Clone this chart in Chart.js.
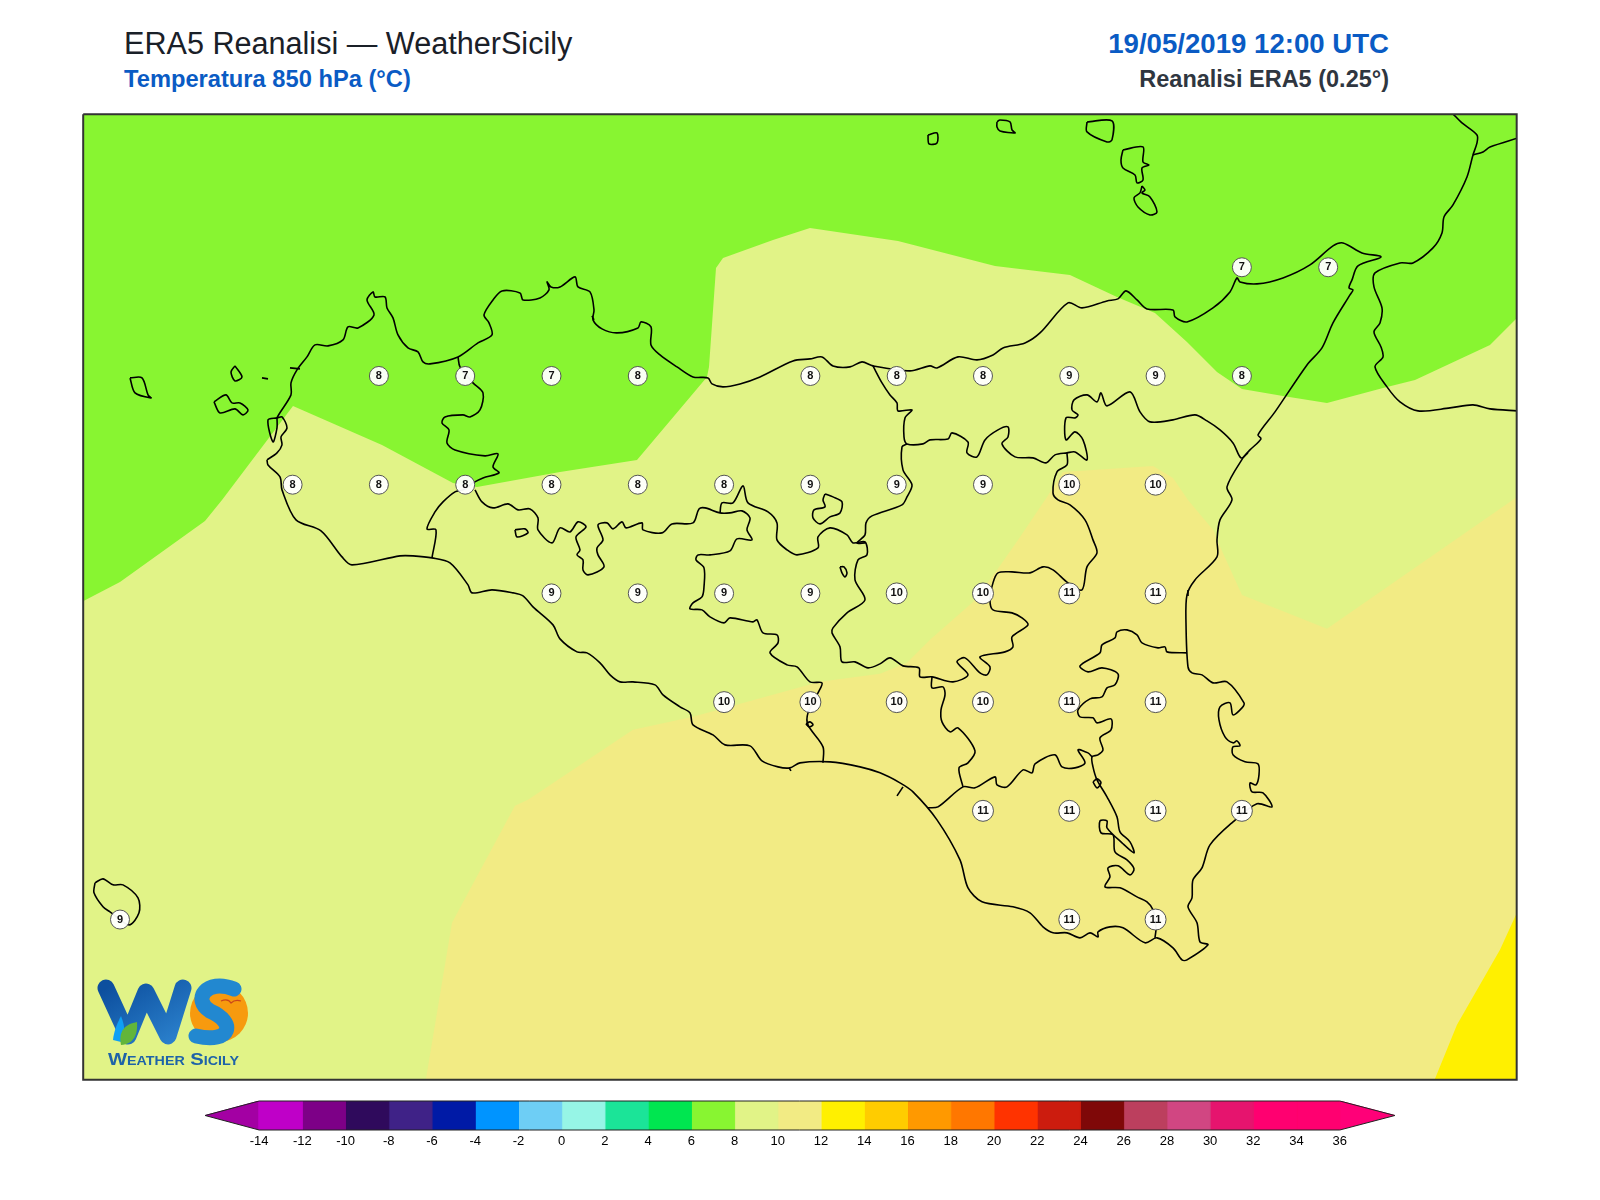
<!DOCTYPE html>
<html>
<head>
<meta charset="utf-8">
<title>ERA5 Reanalisi - WeatherSicily</title>
<script src="https://cdn.jsdelivr.net/npm/chart.js@4/dist/chart.umd.min.js"></script>
<style>
body { margin: 0; background: #fff; width: 1600px; height: 1200px; overflow: hidden; position: relative; font-family: "Liberation Sans", Arial, sans-serif; }
canvas { position: absolute; }
.head { position: absolute; white-space: nowrap; }
#logo { position: absolute; left: 0; top: 0; }
</style>
</head>
<body>
<div class="head" style="left:124px;top:26px;font-size:30.6px;color:#1a2028">ERA5 Reanalisi — WeatherSicily</div>
<div class="head" style="left:124px;top:66px;font-size:23.7px;font-weight:bold;color:#0a5bc4">Temperatura 850 hPa (°C)</div>
<div class="head" style="right:211px;top:28px;font-size:27.6px;font-weight:bold;color:#0a5bc4">19/05/2019 12:00 UTC</div>
<div class="head" style="right:211px;top:66px;font-size:23.5px;font-weight:bold;color:#2f3640">Reanalisi ERA5 (0.25°)</div>

<canvas id="mapChart" width="1600" height="1200" style="left:0;top:0"></canvas>
<canvas id="barChart" width="1300" height="60" style="left:150px;top:1095px"></canvas>

<svg id="logo" width="1600" height="1200">
  <defs>
    <linearGradient id="wBlue" x1="0" y1="0" x2="1" y2="1">
      <stop offset="0" stop-color="#0d4f9e"/>
      <stop offset="1" stop-color="#2a80cc"/>
    </linearGradient>
  </defs>
  <circle cx="219" cy="1013" r="29" fill="#f79a0e"/>
  <polyline points="106,988 128,1036 146,992 168,1036 183,988" fill="none" stroke="url(#wBlue)" stroke-width="17" stroke-linejoin="round" stroke-linecap="round"/>
  <path d="M234,989 C206,978 192,1000 210,1011 C236,1022 232,1044 196,1036" fill="none" stroke="#2288d0" stroke-width="15" stroke-linecap="round"/>
  <path d="M221,1001 Q228,998 231,1003 Q235,999 241,1001" fill="none" stroke="#c9461a" stroke-width="1.2"/>
  <path d="M113,1040 C114,1030 118,1022 121,1016 C125,1026 126,1036 121,1042 Z" fill="#0ea0f5"/>
  <path d="M121,1045 C118,1030 126,1024 137,1022 C138,1034 134,1044 121,1045 Z" fill="#62b53a"/>
  <text x="108" y="1065" font-family="Liberation Sans" font-weight="bold" font-size="17" fill="#1e63a8" font-variant="small-caps" textLength="131" lengthAdjust="spacingAndGlyphs">Weather Sicily</text>
</svg>

<script>
// Map limits in degrees
const lonMin = 11.8934, lonMax = 16.0461, latMin = 36.381, latMax = 38.602;

// Grid point values (degrees, °C)
const stationLon = [15.25, 15.5,
    12.75, 13, 13.25, 13.5, 14, 14.25, 14.5, 14.75, 15, 15.25,
    12.5, 12.75, 13, 13.25, 13.5, 13.75, 14, 14.25, 14.5, 14.75, 15,
    13.25, 13.5, 13.75, 14, 14.25, 14.5, 14.75, 15,
    13.75, 14, 14.25, 14.5, 14.75, 15,
    14.5, 14.75, 15, 15.25,
    12, 14.75, 15];
const stationLat = [38.25, 38.25,
    38, 38, 38, 38, 38, 38, 38, 38, 38, 38,
    37.75, 37.75, 37.75, 37.75, 37.75, 37.75, 37.75, 37.75, 37.75, 37.75, 37.75,
    37.5, 37.5, 37.5, 37.5, 37.5, 37.5, 37.5, 37.5,
    37.25, 37.25, 37.25, 37.25, 37.25, 37.25,
    37, 37, 37, 37,
    36.75, 36.75, 36.75];
const stationTemp = [7, 7,
    8, 7, 7, 8, 8, 8, 8, 9, 9, 8,
    8, 8, 8, 8, 8, 8, 9, 9, 9, 10, 10,
    9, 9, 9, 9, 10, 10, 11, 11,
    10, 10, 10, 10, 11, 11,
    11, 11, 11, 11,
    9, 11, 11];

// Colour bar
const barEdges = [-14, -12, -10, -8, -6, -4, -2, 0, 2, 4, 6, 8, 10, 12, 14, 16, 18, 20, 22, 24, 26, 28, 30, 32, 34, 36];
const barColors = ["#bf00c8", "#7d0087", "#2f0a5c", "#3f2287", "#001aa6", "#0094ff", "#6ecef5", "#96f5e6", "#1be498", "#00e650", "#88f531", "#e1f387", "#f2eb84", "#fff000", "#ffcc00", "#ff9900", "#ff7700", "#ff3300", "#cc1c0e", "#7f0808", "#bc3f5e", "#d14682", "#e6146e", "#ff0070", "#ff0070"];
const lowColor = "#a300a3", highColor = "#ff0078";
const lowTip = -16.5, highTip = 38.55;

// Shapes below are digitised on a tracing sheet, converted to degrees by sheetPoint()
const band6to8 = [[83.2, 114.2], [1516.7, 114.2], [1516.7, 1080], [83.2, 1080]];
const band8to10 = [[80, 603], [120, 582], [205, 521], [222, 500], [293, 406], [382, 445], [453, 483], [477, 487], [560, 472], [637, 460], [707, 377], [709, 367], [716, 268], [723, 258], [773, 240], [810, 228], [898, 241], [995, 266], [1070, 275], [1117, 297], [1155, 313], [1187, 342], [1217, 372], [1242, 389], [1283, 396], [1327, 403], [1383, 388], [1415, 380], [1490, 345], [1520, 315], [1520, 1085], [80, 1085]];
const band10to12 = [[425, 1085], [452, 923], [515, 806], [528, 800], [633, 730], [693, 717], [820, 682], [880, 674], [907, 663], [930, 640], [973, 602], [997, 570], [1018, 540], [1047, 497], [1063, 472], [1153, 466], [1173, 478], [1188, 500], [1214, 531], [1217, 540], [1242, 595], [1280, 610], [1327, 629], [1520, 495], [1520, 1085]];
const band12to14 = [[1520, 906], [1500, 950], [1457, 1025], [1435, 1079], [1433, 1085], [1520, 1085]];

const coastSicily = [[267, 460], [277, 453], [282, 445], [281, 437], [287, 428], [282, 417], [277, 418], [291, 395], [291, 383], [297, 370], [307, 357], [315, 345], [328, 346], [343, 340], [348, 327], [358, 328], [374, 315], [367, 300], [373, 292], [375, 297], [385, 297], [387, 308], [393, 318], [398, 335], [408, 348], [418, 352], [423, 362], [430, 364], [458, 357], [478, 343], [492, 335], [489, 323], [484, 315], [493, 300], [502, 291], [520, 293], [523, 300], [540, 298], [549, 290], [547, 282], [551, 287], [560, 287], [575, 277], [578, 287], [590, 292], [594, 310], [593, 320], [602, 329], [617, 333], [638, 328], [641, 322], [651, 327], [651, 345], [660, 355], [677, 367], [693, 377], [708, 378], [712, 384], [723, 387], [740, 384], [760, 377], [793, 361], [810, 359], [822, 357], [833, 366], [850, 367], [862, 362], [873, 366], [910, 371], [930, 366], [937, 368], [958, 357], [977, 360], [993, 355], [1003, 348], [1025, 343], [1040, 333], [1068, 303], [1082, 308], [1107, 301], [1118, 299], [1126, 291], [1137, 300], [1147, 309], [1173, 310], [1175, 317], [1187, 322], [1213, 308], [1230, 292], [1237, 278], [1240, 282], [1257, 284], [1283, 278], [1310, 265], [1333, 246], [1343, 243], [1362, 253], [1381, 257], [1358, 266], [1352, 280], [1349, 288], [1353, 290], [1350, 295], [1333, 323], [1322, 348], [1307, 365], [1275, 412], [1258, 435], [1261, 439], [1250, 450], [1243, 458], [1227, 487], [1232, 500], [1220, 520], [1217, 540], [1217, 557], [1195, 580], [1187, 595], [1186, 623], [1188, 667], [1192, 673], [1202, 675], [1213, 683], [1227, 682], [1244, 703], [1242, 708], [1233, 715], [1230, 703], [1220, 707], [1219, 720], [1225, 737], [1233, 743], [1237, 741], [1240, 746], [1233, 747], [1233, 755], [1245, 762], [1258, 764], [1259, 775], [1256, 785], [1250, 783], [1252, 792], [1263, 793], [1272, 807], [1257, 804], [1233, 822], [1210, 845], [1202, 868], [1193, 880], [1192, 898], [1188, 907], [1197, 923], [1200, 942], [1208, 945], [1187, 960], [1182, 960], [1173, 948], [1157, 938], [1145, 943], [1123, 928], [1110, 927], [1098, 932], [1098, 937], [1090, 933], [1080, 938], [1067, 933], [1053, 933], [1043, 927], [1030, 913], [1013, 907], [982, 902], [968, 888], [960, 860], [937, 820], [913, 792], [900, 783], [880, 773], [860, 767], [830, 762], [800, 763], [790, 768], [778, 767], [762, 761], [750, 746], [725, 745], [713, 735], [693, 725], [690, 713], [680, 707], [663, 695], [655, 685], [633, 682], [620, 682], [610, 675], [600, 663], [587, 653], [577, 652], [560, 639], [553, 625], [533, 607], [523, 596], [513, 593], [492, 590], [472, 593], [468, 585], [450, 563], [432, 558], [413, 556], [400, 556], [352, 565], [342, 557], [321, 531], [296, 520], [282, 490], [280, 477], [268, 465], [267, 460]];
const lagoonMarsala = [[277, 418], [268, 420], [273, 442], [277, 428], [277, 418]];
const borderTrapani = [[458, 357], [460, 367], [473, 383], [483, 393], [480, 410], [470, 417], [463, 415], [445, 417], [442, 423], [449, 430], [447, 443], [455, 450], [485, 456], [498, 454], [493, 467], [499, 473], [483, 478], [473, 483], [463, 490], [455, 492], [443, 502], [435, 512], [427, 529], [436, 530], [432, 558]];
const borderAgrigento = [[475, 490], [482, 502], [493, 508], [508, 504], [518, 510], [530, 509], [538, 518], [538, 530], [552, 543], [560, 528], [570, 532], [578, 522], [586, 527], [576, 537], [580, 550], [577, 555], [583, 560], [583, 570], [588, 575], [604, 567], [598, 555], [597, 548], [603, 540], [598, 525], [607, 523], [613, 529], [622, 522], [626, 528], [642, 523], [643, 530], [662, 533], [672, 524], [693, 523], [699, 509], [705, 508], [720, 513], [730, 513], [742, 511], [750, 518], [747, 530], [752, 540], [737, 539], [730, 551], [710, 555], [698, 555], [696, 560], [704, 568], [704, 587], [702, 597], [693, 603], [690, 609], [702, 610], [710, 617], [724, 623], [730, 618], [753, 622], [757, 620], [763, 633], [777, 635], [778, 643], [770, 653], [787, 665], [797, 667], [810, 682], [822, 683], [818, 693], [808, 713], [808, 725], [823, 747], [823, 763]];
const borderPalermoSouth = [[720, 513], [722, 503], [733, 503], [743, 486], [748, 503], [768, 512], [777, 523], [777, 540], [787, 550], [797, 555], [818, 548], [818, 537], [830, 528], [847, 535], [853, 543], [865, 542], [867, 555], [858, 560], [855, 580], [865, 600], [847, 613], [833, 628], [832, 633], [840, 647], [842, 662], [855, 662], [868, 668], [880, 664], [890, 658], [903, 666], [919, 668], [920, 677], [932, 677], [953, 682], [968, 675], [957, 662], [965, 658], [980, 673], [987, 675], [990, 667], [980, 657], [1005, 652], [1013, 647], [1012, 637], [1028, 625], [1022, 618], [1012, 613], [993, 610], [990, 600], [993, 583], [998, 573], [1012, 572], [1030, 573], [1043, 567], [1053, 570], [1068, 583], [1082, 590], [1087, 567], [1097, 553], [1093, 540], [1085, 520], [1070, 505], [1058, 500], [1053, 493], [1057, 472], [1067, 465], [1067, 453]];
const borderMessina = [[873, 366], [882, 383], [890, 395], [897, 403], [898, 411], [912, 410], [905, 418], [904, 437], [907, 444], [923, 444], [930, 440], [948, 439], [952, 433], [968, 442], [967, 453], [977, 457], [985, 440], [998, 430], [1008, 427], [1008, 437], [1002, 444], [1015, 457], [1033, 458], [1046, 463], [1055, 455], [1067, 453], [1075, 452], [1087, 460], [1083, 440], [1075, 432], [1066, 440], [1066, 418], [1075, 418], [1078, 415], [1072, 410], [1074, 400], [1087, 395], [1097, 402], [1101, 393], [1107, 406], [1130, 392], [1140, 412], [1150, 422], [1173, 420], [1195, 415], [1207, 421], [1220, 430], [1233, 443], [1241, 458], [1248, 453]];
const borderEnnaWest = [[907, 444], [902, 447], [903, 470], [912, 485], [907, 497], [902, 505], [872, 516], [866, 523], [865, 535], [857, 543], [865, 543]];
const borderCatania = [[1187, 653], [1167, 652], [1165, 647], [1158, 648], [1142, 643], [1137, 635], [1127, 630], [1117, 632], [1115, 638], [1102, 645], [1100, 653], [1080, 666], [1088, 672], [1102, 668], [1118, 674], [1115, 685], [1107, 688], [1102, 697], [1090, 699], [1078, 710], [1080, 717], [1093, 718], [1097, 723], [1111, 719], [1111, 730], [1100, 738], [1103, 750], [1098, 755], [1092, 757], [1093, 767], [1097, 780], [1107, 797], [1117, 817], [1120, 832], [1130, 842], [1134, 853], [1122, 843], [1107, 828], [1107, 821], [1100, 821], [1101, 833], [1113, 835], [1115, 852], [1127, 860], [1134, 869], [1130, 875], [1118, 866], [1108, 868], [1110, 877], [1105, 887], [1120, 888], [1137, 897], [1147, 902], [1153, 910], [1156, 928], [1155, 938]];
const borderRagusa = [[928, 808], [938, 807], [963, 787], [975, 788], [995, 777], [997, 785], [1007, 787], [1023, 770], [1032, 773], [1035, 764], [1055, 755], [1062, 767], [1075, 768], [1085, 763], [1078, 750], [1088, 753], [1092, 757]];
const borderCaltanissetta = [[932, 677], [932, 688], [943, 687], [945, 695], [941, 710], [942, 722], [950, 732], [958, 728], [975, 751], [968, 763], [959, 768], [963, 787]];
const tickGela = [[897, 796], [903, 787]];
const coastCalabria = [[1453, 114], [1462, 123], [1477, 135], [1477, 143], [1473, 155], [1467, 177], [1453, 205], [1444, 217], [1442, 233], [1433, 248], [1413, 263], [1400, 263], [1375, 273], [1374, 287], [1382, 308], [1380, 323], [1374, 332], [1381, 347], [1383, 357], [1375, 367], [1387, 387], [1400, 402], [1418, 411], [1450, 408], [1473, 405], [1490, 409], [1518, 411]];
const borderCalabria = [[1473, 155], [1483, 152], [1490, 147], [1518, 138]];
const lakePozzillo = [[840, 567], [844, 567], [847, 573], [845, 577], [842, 573], [840, 567]];
const lakeEast = [[825, 494], [833, 497], [842, 502], [840, 513], [830, 517], [820, 524], [813, 518], [814, 510], [825, 507], [823, 500], [825, 494]];
const lakeWest = [[515, 530], [525, 529], [528, 533], [517, 537], [515, 530]];
const ringRagusa = [[1093, 782], [1097, 779], [1101, 783], [1097, 788], [1093, 782]];
const ringGela = [[806, 724], [810, 722], [813, 725], [809, 727], [806, 724]];
const marettimo = [[130, 378], [142, 378], [148, 395], [151, 398], [135, 393], [130, 378]];
const favignana = [[214, 402], [226, 395], [232, 403], [240, 403], [248, 410], [243, 415], [235, 409], [220, 413], [214, 402]];
const levanzo = [[235, 366], [242, 377], [235, 381], [231, 372], [235, 366]];
const formica = [[262, 378], [268, 379]];
const speckTrapani = [[290, 368], [300, 369]];
const speckTermini = [[592, 316], [594, 320]];
const speckCatania = [[1188, 590], [1188, 596]];
const speckLicata = [[789, 768], [791, 771]];
const alicudi = [[928, 135], [937, 133], [937, 143], [929, 144], [928, 135]];
const filicudi = [[997, 122], [1000, 120], [1010, 122], [1012, 130], [1015, 133], [1000, 131], [997, 127], [997, 122]];
const salina = [[1087, 122], [1112, 121], [1112, 140], [1107, 142], [1087, 132], [1087, 122]];
const lipari = [[1123, 150], [1143, 147], [1143, 162], [1149, 165], [1142, 168], [1143, 180], [1137, 183], [1135, 175], [1123, 168], [1121, 160], [1123, 150]];
const vulcano = [[1142, 186], [1145, 190], [1142, 193], [1150, 197], [1157, 212], [1150, 215], [1138, 207], [1134, 198], [1140, 193], [1142, 186]];
const pantelleria = [[95, 883], [103, 879], [113, 885], [123, 885], [138, 898], [139, 913], [129, 925], [110, 912], [103, 907], [94, 893], [95, 883]];

// Tracing sheet to degrees
function sheetPoint(p) {
    return { x: 12 + (p[0] - 120) / 345.2, y: 36.75 + (919.7 - p[1]) / 434.9 };
}

function bandDataset(shape, color, order) {
    return {
        data: shape.map(sheetPoint),
        showLine: true,
        fill: "shape",
        backgroundColor: color,
        borderColor: color,
        borderWidth: 0,
        pointRadius: 0,
        order: order
    };
}

function outlineDataset(shape) {
    return {
        data: shape.map(sheetPoint),
        showLine: true,
        fill: false,
        borderColor: "#000",
        borderWidth: 1.6,
        borderJoinStyle: "round",
        tension: 0.3,
        pointRadius: 0,
        order: 2
    };
}

const outlines = [coastSicily, lagoonMarsala, borderTrapani, borderAgrigento, borderPalermoSouth, borderMessina, borderEnnaWest, borderCatania, borderRagusa, borderCaltanissetta, tickGela, coastCalabria, borderCalabria, lakePozzillo, lakeEast, lakeWest, ringRagusa, ringGela, marettimo, favignana, levanzo, formica, speckTrapani, speckTermini, speckCatania, speckLicata, alicudi, filicudi, salina, lipari, vulcano, pantelleria];

const stationPoints = stationLon.map((lon, i) => ({ x: lon, y: stationLat[i], v: stationTemp[i] }));

// Writes the value inside each grid point circle
const stationLabels = {
    id: "stationLabels",
    afterDatasetsDraw(chart) {
        const ctx = chart.ctx;
        const meta = chart.getDatasetMeta(0);
        ctx.save();
        ctx.font = "bold 11px 'Liberation Sans'";
        ctx.fillStyle = "#111";
        ctx.textAlign = "center";
        ctx.textBaseline = "middle";
        meta.data.forEach((pt, i) => ctx.fillText(String(stationTemp[i]), pt.x, pt.y));
        ctx.restore();
    }
};

new Chart(document.getElementById("mapChart"), {
    type: "scatter",
    data: {
        datasets: [
            {
                data: stationPoints,
                pointRadius: ctx => (ctx.raw.v >= 10 ? 10.5 : 9.5),
                pointBackgroundColor: "rgba(255,255,255,0.95)",
                pointBorderColor: "#555",
                pointBorderWidth: 1,
                showLine: false,
                order: 0
            },
            {
                data: band6to8.concat([band6to8[0]]).map(sheetPoint),
                showLine: true,
                fill: false,
                borderColor: "#333",
                borderWidth: 2,
                pointRadius: 0,
                clip: false,
                order: 1
            },
            ...outlines.map(outlineDataset),
            bandDataset(band12to14, "#fff000", 3),
            bandDataset(band10to12, "#f2eb84", 4),
            bandDataset(band8to10, "#e1f387", 5),
            bandDataset(band6to8, "#88f531", 6)
        ]
    },
    options: {
        responsive: false,
        animation: false,
        layout: { padding: { left: 83.2, top: 114.2, right: 83.3, bottom: 120 } },
        plugins: { legend: { display: false }, tooltip: { enabled: false } },
        elements: { line: { tension: 0 } },
        scales: {
            x: { type: "linear", min: lonMin, max: lonMax, display: false },
            y: { type: "linear", min: latMin, max: latMax, display: false }
        }
    },
    plugins: [stationLabels]
});

// Colour bar segments and end triangles
function segmentDataset(points, color, order) {
    return {
        data: points,
        showLine: true,
        fill: "shape",
        backgroundColor: color,
        borderColor: color,
        borderWidth: 1,
        pointRadius: 0,
        order: order
    };
}

const first = barEdges[0], last = barEdges[barEdges.length - 1];
const barSegments = barColors.map((color, i) => segmentDataset([
    { x: barEdges[i], y: 0 }, { x: barEdges[i + 1], y: 0 }, { x: barEdges[i + 1], y: 1 }, { x: barEdges[i], y: 1 }, { x: barEdges[i], y: 0 }
], color, 2));

new Chart(document.getElementById("barChart"), {
    type: "scatter",
    data: {
        datasets: [
            {
                data: [
                    { x: lowTip, y: 0.5 }, { x: first, y: 1 }, { x: last, y: 1 }, { x: highTip, y: 0.5 },
                    { x: last, y: 0 }, { x: first, y: 0 }, { x: lowTip, y: 0.5 }
                ],
                showLine: true,
                fill: false,
                borderColor: "#222",
                borderWidth: 1,
                pointRadius: 0,
                clip: false,
                order: 1
            },
            ...barSegments,
            segmentDataset([{ x: lowTip, y: 0.5 }, { x: first, y: 1 }, { x: first, y: 0 }], lowColor, 2),
            segmentDataset([{ x: highTip, y: 0.5 }, { x: last, y: 1 }, { x: last, y: 0 }], highColor, 2)
        ]
    },
    options: {
        responsive: false,
        animation: false,
        layout: { padding: { left: 55.1, right: 55.1, top: 6, bottom: 0 } },
        plugins: { legend: { display: false }, tooltip: { enabled: false } },
        elements: { line: { tension: 0 } },
        scales: {
            x: {
                type: "linear",
                min: lowTip,
                max: highTip,
                grid: { display: false, drawTicks: false },
                border: { display: false },
                afterBuildTicks: axis => { axis.ticks = barEdges.map(v => ({ value: v })); },
                afterFit: axis => { axis.height = 25; },
                ticks: {
                    autoSkip: false,
                    maxRotation: 0,
                    padding: 4,
                    color: "#000",
                    font: { family: "Liberation Sans", size: 13 }
                }
            },
            y: { type: "linear", min: 0, max: 1, display: false }
        }
    }
});
</script>
</body>
</html>
